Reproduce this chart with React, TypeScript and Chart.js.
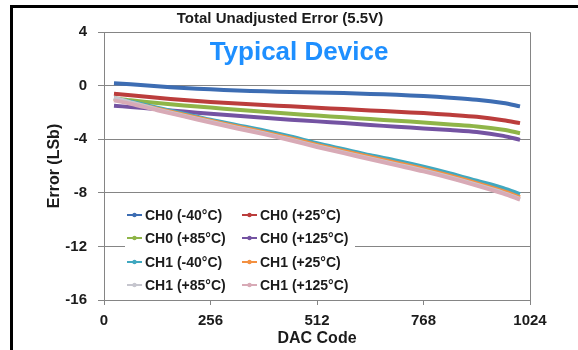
import React, { useEffect, useRef } from "react";
import { Chart, registerables } from "chart.js";

Chart.register(...registerables);

// ---- data ----
const chartTitle = "Total Unadjusted Error (5.5V)";
const annotation = "Typical Device";
const xAxisTitle = "DAC Code";
const yAxisTitle = "Error (LSb)";
const xTickValues = [0, 256, 512, 768, 1024];
const yTickValues = [4, 0, -4, -8, -12, -16];

const dacCode = [24, 64, 128, 192, 256, 320, 384, 448, 512, 576, 640, 704, 768, 832, 896, 960, 1000];

const ch0Minus40 = [0.18, 0.1, -0.05, -0.18, -0.28, -0.36, -0.43, -0.48, -0.52, -0.56, -0.62, -0.69, -0.78, -0.9, -1.05, -1.3, -1.55];
const ch0Plus25 = [-0.6, -0.72, -0.9, -1.08, -1.22, -1.34, -1.45, -1.55, -1.65, -1.75, -1.85, -1.95, -2.05, -2.18, -2.33, -2.58, -2.8];
const ch0Plus85 = [-0.95, -1.1, -1.3, -1.48, -1.64, -1.8, -1.95, -2.1, -2.24, -2.37, -2.5, -2.62, -2.75, -2.9, -3.05, -3.3, -3.55];
const ch0Plus125 = [-1.5, -1.6, -1.76, -1.94, -2.1, -2.25, -2.4, -2.54, -2.67, -2.8, -2.94, -3.07, -3.2, -3.32, -3.46, -3.75, -4.05];
const ch1Minus40 = [-0.95, -1.2, -1.65, -2.1, -2.55, -2.95, -3.35, -3.8, -4.3, -4.75, -5.2, -5.6, -6.05, -6.55, -7.1, -7.65, -8.1];
const ch1Plus25 = [-1.0, -1.28, -1.72, -2.18, -2.62, -3.05, -3.47, -3.93, -4.42, -4.88, -5.33, -5.77, -6.22, -6.73, -7.28, -7.88, -8.33];
const ch1Plus85 = [-0.9, -1.25, -1.78, -2.25, -2.7, -3.14, -3.56, -4.02, -4.52, -4.98, -5.43, -5.88, -6.33, -6.84, -7.4, -8.0, -8.45];
const ch1Plus125 = [-1.1, -1.35, -1.84, -2.3, -2.76, -3.2, -3.62, -4.08, -4.58, -5.04, -5.5, -5.95, -6.4, -6.9, -7.46, -8.06, -8.5];

const seriesLabels = [
  "CH0 (-40°C)", "CH0 (+25°C)", "CH0 (+85°C)", "CH0 (+125°C)",
  "CH1 (-40°C)", "CH1 (+25°C)", "CH1 (+85°C)", "CH1 (+125°C)",
];
const seriesValues = [ch0Minus40, ch0Plus25, ch0Plus85, ch0Plus125, ch1Minus40, ch1Plus25, ch1Plus85, ch1Plus125];
const seriesColors = ["#3d6db3", "#bb3d3c", "#8fb548", "#7453a2", "#40a8c0", "#f39041", "#c6c6ce", "#d8aab6"];

const FONT = "'Liberation Sans', Arial, Helvetica, sans-serif";
const TEXT = "#1b1b1b";
const GRID = "#858585";

const decorPlugin = {
  id: "decor",
  beforeDraw(chart: any) {
    const { ctx, width, height } = chart;
    ctx.save();
    ctx.fillStyle = "#ffffff";
    ctx.fillRect(0, 0, width, height);
    ctx.fillStyle = "#000000";
    ctx.fillRect(10, 5, 3, height - 5);
    ctx.fillRect(10, 5, width - 10, 3);
    ctx.restore();
  },
  beforeDatasetsDraw(chart: any) {
    const { ctx, chartArea: a } = chart;
    ctx.save();
    ctx.strokeStyle = GRID;
    ctx.lineWidth = 1;
    ctx.beginPath();
    ctx.moveTo(a.left, a.top + 0.5);
    ctx.lineTo(a.right + 0.5, a.top + 0.5);
    ctx.lineTo(a.right + 0.5, a.bottom);
    ctx.stroke();
    ctx.restore();
  },
  afterDraw(chart: any) {
    const { ctx, chartArea: a } = chart;
    ctx.save();
    // annotation
    ctx.fillStyle = "#1e8fff";
    ctx.font = `bold 26px ${FONT}`;
    ctx.textAlign = "center";
    ctx.textBaseline = "middle";
    ctx.fillText(annotation, a.left + 195, a.top + 21);

    // legend
    const boxL = a.left + 21;
    const boxT = a.top + 166;
    const boxW = 230;
    const boxH = a.bottom - boxT - 2;
    ctx.fillStyle = "#ffffff";
    ctx.fillRect(boxL, boxT, boxW, boxH);
    const colX = [a.left + 23, a.left + 138];
    const rowY = [a.top + 183, a.top + 206, a.top + 230, a.top + 253];
    ctx.font = `bold 14px ${FONT}`;
    ctx.textAlign = "left";
    seriesLabels.forEach((lab, i) => {
      const x = colX[i % 2];
      const y = rowY[Math.floor(i / 2)];
      const c = seriesColors[i];
      ctx.strokeStyle = c;
      ctx.lineWidth = 2;
      ctx.beginPath();
      ctx.moveTo(x, y);
      ctx.lineTo(x + 15, y);
      ctx.stroke();
      ctx.fillStyle = c;
      ctx.beginPath();
      ctx.arc(x + 7.5, y, 2.2, 0, Math.PI * 2);
      ctx.fill();
      ctx.fillStyle = TEXT;
      ctx.fillText(lab, x + 18, y + 1);
    });
    ctx.restore();
  },
};

export default function App() {
  const ref = useRef<HTMLCanvasElement | null>(null);

  useEffect(() => {
    if (!ref.current) return;
    const datasets = seriesValues.map((vals, i) => ({
      label: seriesLabels[i],
      data: vals.map((v, j) => ({ x: dacCode[j], y: v })),
      borderColor: seriesColors[i],
      backgroundColor: seriesColors[i],
      borderWidth: 4,
      pointRadius: 0,
      tension: 0.3,
      fill: false,
      order: seriesValues.length - i,
    }));

    const chart = new Chart(ref.current, {
      type: "line",
      data: { datasets },
      plugins: [decorPlugin],
      options: {
        responsive: false,
        animation: false,
        layout: { padding: { left: 30, right: 48, top: 8, bottom: 0 } },
        plugins: {
          legend: { display: false },
          tooltip: { enabled: false },
          title: {
            display: true,
            text: chartTitle,
            color: TEXT,
            font: { family: FONT, size: 15, weight: "bold" },
            padding: { top: 2, bottom: 4 },
          },
        },
        scales: {
          x: {
            type: "linear",
            min: 0,
            max: 1024,
            afterBuildTicks: (s: any) => {
              s.ticks = xTickValues.map((v) => ({ value: v }));
            },
            afterFit: (s: any) => {
              s.height = 50;
            },
            grid: { drawOnChartArea: false, drawTicks: true, tickLength: 5, color: GRID },
            border: { display: true, color: GRID },
            ticks: {
              color: TEXT,
              padding: 7,
              maxRotation: 0,
              callback: (v: any) => String(v),
              font: { family: FONT, size: 15, weight: "bold" },
            },
            title: {
              display: true,
              text: xAxisTitle,
              color: TEXT,
              font: { family: FONT, size: 16, weight: "bold" },
              padding: { top: 0, bottom: 2 },
            },
          },
          y: {
            type: "linear",
            min: -16,
            max: 4,
            afterBuildTicks: (s: any) => {
              s.ticks = yTickValues.map((v) => ({ value: v }));
            },
            afterFit: (s: any) => {
              s.width = 74;
            },
            grid: { color: GRID, tickLength: 6, drawTicks: true },
            border: { display: true, color: GRID },
            ticks: {
              color: TEXT,
              padding: 11,
              callback: (v: any) => String(v),
              font: { family: FONT, size: 15, weight: "bold" },
            },
            title: {
              display: true,
              text: yAxisTitle,
              color: TEXT,
              font: { family: FONT, size: 16, weight: "bold" },
              padding: { top: 15, bottom: 0 },
            },
          },
        },
      },
    });
    return () => chart.destroy();
  }, []);

  return (
    <div style={{ position: "absolute", left: 0, top: 0, width: 578, height: 350, background: "#fff" }}>
      <canvas ref={ref} width={578} height={350} style={{ display: "block" }} />
    </div>
  );
}
